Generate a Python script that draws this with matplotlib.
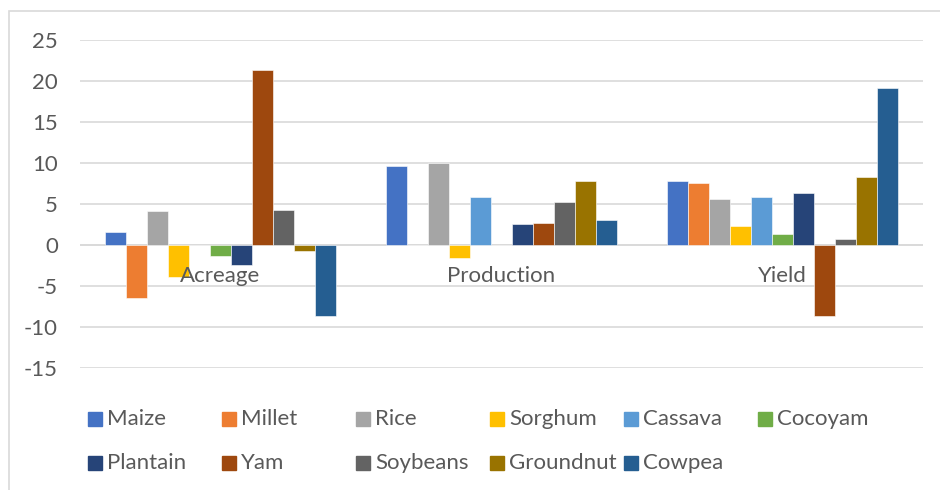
import numpy as np
import matplotlib
matplotlib.use("Agg")
from matplotlib import pyplot as plt
from matplotlib.patches import Rectangle
from matplotlib.ticker import FuncFormatter

categories = ["Acreage", "Production", "Yield"]
crops = ["Maize", "Millet", "Rice", "Sorghum", "Cassava", "Cocoyam",
         "Plantain", "Yam", "Soybeans", "Groundnut", "Cowpea"]
# one list per crop: Acreage, Production, Yield
maize = [1.6, 9.6, 7.8]
millet = [-6.5, 0.0, 7.6]
rice = [4.1, 10.0, 5.6]
sorghum = [-3.9, -1.6, 2.3]
cassava = [0.0, 5.8, 5.8]
cocoyam = [-1.4, 0.0, 1.3]
plantain = [-2.4, 2.5, 6.3]
yam = [21.3, 2.7, -8.6]
soybeans = [4.3, 5.3, 0.7]
groundnut = [-0.7, 7.8, 8.3]
cowpea = [-8.7, 3.0, 19.1]
values = [maize, millet, rice, sorghum, cassava, cocoyam,
          plantain, yam, soybeans, groundnut, cowpea]

colors = ["#4472C4", "#ED7D31", "#A5A5A5", "#FFC000", "#5B9BD5", "#70AD47",
          "#264478", "#9E480E", "#636363", "#997300", "#255E91"]

plt.rcParams['font.family'] = ['Lato', 'DejaVu Sans']
txt = "#595959"
fs = 16

fig = plt.figure(figsize=(9.4, 4.9), dpi=100)
# chart border (cropped on right/bottom like the original)
fig.patches.append(Rectangle((9/940, -0.05), 1.2, 1 - 11/490 + 0.05,
                             transform=fig.transFigure, fill=False,
                             edgecolor="#D9D9D9", lw=1.2))

ax = fig.add_axes([80/940, 1 - 368/490, 843/940, 328/490])
x = np.arange(len(categories))
w = 0.0747
n = len(crops)
for i in range(n):
    off = (i - (n - 1) / 2) * w
    ax.bar(x + off, values[i], w, color=colors[i], edgecolor="white",
           linewidth=0.4, zorder=3, label=crops[i])

ax.set_xlim(-0.5, 2.5)
ax.set_ylim(-15, 25)
ax.set_yticks(np.arange(-15, 26, 5))
ax.yaxis.set_major_formatter(FuncFormatter(lambda v, p: "%d" % v))
ax.yaxis.grid(True, color="#D9D9D9", lw=1.2, zorder=0)
ax.axhline(0, color="#D9D9D9", lw=1.2, zorder=1)
for s in ax.spines.values():
    s.set_visible(False)
ax.tick_params(axis="y", length=0, pad=16, labelsize=fs, labelcolor=txt)
ax.set_xticks([])
for i, c in enumerate(categories):
    ax.annotate(c, (x[i], 0), xytext=(0, -22.5), textcoords="offset points",
                ha="center", va="center", fontsize=fs, color=txt, zorder=5)

# legend laid out in equal columns like the original
for i, (name, col) in enumerate(zip(crops, colors)):
    r, c = divmod(i, 6)
    lx = (88 + 134 * c) / 940
    ly = 1 - (419 + 44 * r) / 490
    fig.patches.append(Rectangle((lx, ly - 7/490), 14/940, 14/490,
                                 transform=fig.transFigure, color=col))
    fig.text(lx + 19/940, ly, name, fontsize=fs, color=txt, va="center")

fig.savefig("out.png", dpi=100)
